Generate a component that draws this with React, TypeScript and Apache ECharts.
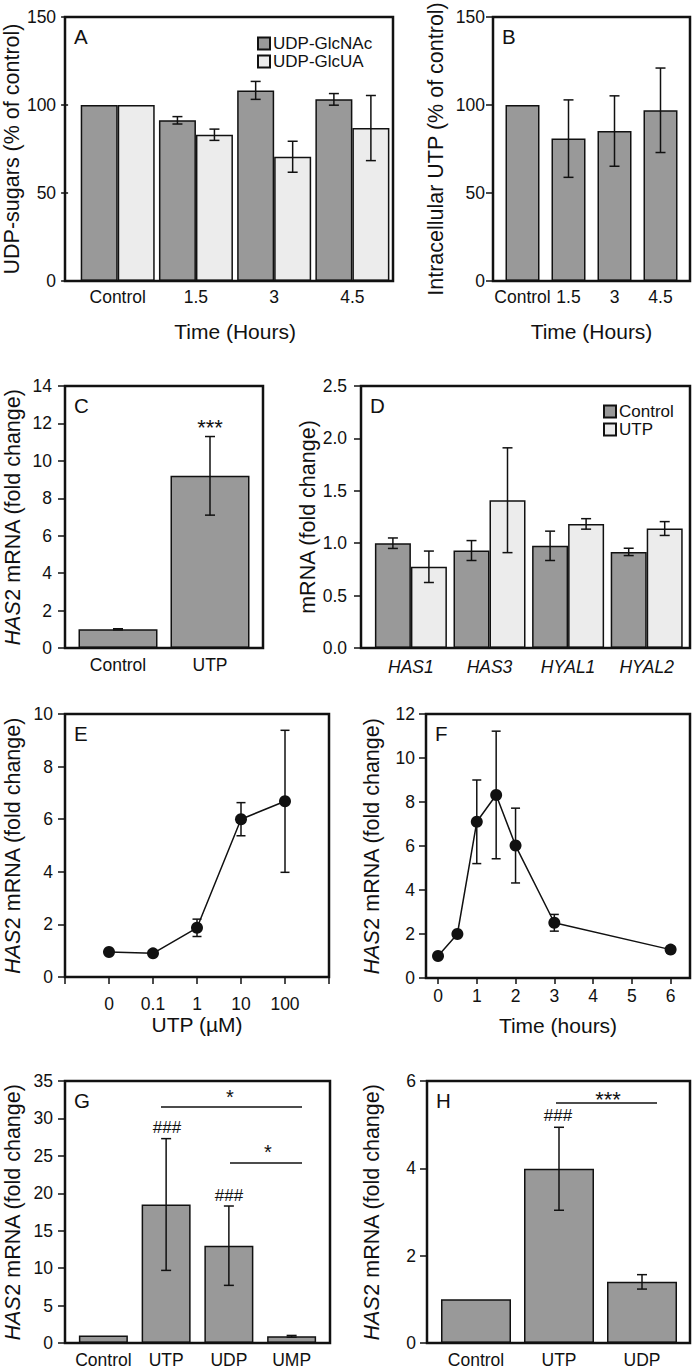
import React, { useEffect, useRef } from 'react';
import * as echarts from 'echarts';

// ---------- data ----------
const timeCats = ['Control', '1.5', '3', '4.5'];
const glcnacVals = [100, 91.3, 108.3, 103.2];
const glcnacErr = [0, 2.1, 5.1, 3.3];
const glcuaVals = [100, 83.1, 70.6, 86.9];
const glcuaErr = [0, 3.2, 8.8, 18.5];
const utpIntraVals = [100, 80.9, 85.2, 97.0];
const utpIntraErr = [0, 22, 20, 24];

const cCats = ['Control', 'UTP'];
const cVals = [1.0, 9.2];
const cErr = [0.03, 2.1];

const dCats = ['HAS1', 'HAS3', 'HYAL1', 'HYAL2'];
const dCtrlVals = [1.0, 0.93, 0.975, 0.917];
const dCtrlErr = [0.05, 0.095, 0.14, 0.035];
const dUtpVals = [0.775, 1.41, 1.184, 1.14];
const dUtpErr = [0.15, 0.5, 0.05, 0.066];

const eDoseLabels = ['0', '0.1', '1', '10', '100'];
const eVals = [0.95, 0.9, 1.87, 6.0, 6.68];
const eErr = [0.05, 0.05, 0.33, 0.63, 2.7];

const fTimes = [0, 0.5, 1, 1.5, 2, 3, 6];
const fVals = [1.0, 2.0, 7.1, 8.32, 6.02, 2.51, 1.29];
const fErr = [0.05, 0.05, 1.9, 2.9, 1.7, 0.38, 0.15];
const fTickVals = [0, 1, 2, 3, 4, 5, 6];

const gCats = ['Control', 'UTP', 'UDP', 'UMP'];
const gVals = [1.0, 18.5, 13.0, 0.89];
const gErr = [0, 8.8, 5.3, 0.12];

const hCats = ['Control', 'UTP', 'UDP'];
const hVals = [1.0, 3.99, 1.4];
const hErr = [0, 0.95, 0.165];

// ---------- style / layout ----------
const FONT = '"Liberation Sans", Arial, Helvetica, sans-serif';
const INK = '#111111';
const DARK = '#999999';
const LIGHT = '#ececec';
const TICK_FS = 17.5;

type Panel = { fx: number; fy: number; fw: number; fh: number; rl: number; rr: number };
const LAY: Record<string, Panel> = {
  A: { fx: 65, fy: 17, fw: 328, fh: 264, rl: 75.5, rr: 391.5 },
  B: { fx: 493, fy: 17, fw: 197, fh: 264, rl: 499.5, rr: 683.5 },
  C: { fx: 65, fy: 386, fw: 198, fh: 262, rl: 72, rr: 256 },
  D: { fx: 361, fy: 386, fw: 329, fh: 262, rl: 371.6, rr: 686 },
  E: { fx: 65, fy: 714, fw: 264, fh: 263, rl: 65, rr: 329 },
  F: { fx: 426, fy: 714, fw: 264, fh: 264, rl: 426, rr: 690 },
  G: { fx: 65, fy: 1081, fw: 265, fh: 262, rl: 72, rr: 323 },
  H: { fx: 427, fy: 1081, fw: 263, fh: 262, rl: 434.5, rr: 683.5 },
};
const ORDER = ['A', 'B', 'C', 'D', 'E', 'F', 'G', 'H'];

const yTitleStyle = {
  fontSize: 21.5,
  color: INK,
  fontFamily: FONT,
  rich: { i: { fontStyle: 'italic', fontSize: 21.5, color: INK, fontFamily: FONT } },
};
const xTitleStyle = { fontSize: 21, color: INK, fontFamily: FONT };

function mkGrid(p: Panel) {
  return { left: p.rl, top: p.fy, width: p.rr - p.rl, height: p.fh, containLabel: false };
}

function mkY(i: number, p: Panel, min: number, max: number, interval: number, name: string, nameGap: number, margin: number, fmt?: (v: number) => string) {
  return {
    gridIndex: i,
    type: 'value',
    min,
    max,
    interval,
    offset: p.rl - p.fx,
    axisLine: { show: false, onZero: false },
    axisTick: { show: true, length: 7, lineStyle: { color: INK, width: 1.5 } },
    splitLine: { show: false },
    axisLabel: { color: INK, fontSize: TICK_FS, fontFamily: FONT, margin, formatter: fmt },
    name,
    nameLocation: 'middle',
    nameGap,
    nameTextStyle: yTitleStyle,
  };
}

function mkXCat(i: number, cats: string[], margin: number, name?: string, nameGap?: number, italic?: boolean) {
  return {
    gridIndex: i,
    type: 'category',
    data: cats,
    axisLine: { show: false, onZero: false },
    axisTick: { show: false },
    axisLabel: { color: INK, fontSize: TICK_FS, fontFamily: FONT, margin, fontStyle: italic ? 'italic' : 'normal', interval: 0 },
    name,
    nameLocation: 'middle',
    nameGap,
    nameTextStyle: xTitleStyle,
  };
}

function errBars(axis: number, xs: number[], vals: number[], errs: number[], shift: number, cap: number) {
  const data = vals.map((v, i) => [xs[i], v - errs[i], v + errs[i]]).filter((_, i) => errs[i] > 0);
  return {
    type: 'custom',
    xAxisIndex: axis,
    yAxisIndex: axis,
    z: 5,
    silent: true,
    encode: { x: 0, y: [1, 2] },
    data,
    renderItem: (_params: any, api: any) => {
      const x0 = api.value(0);
      const lo = api.coord([x0, api.value(1)]);
      const hi = api.coord([x0, api.value(2)]);
      const x = lo[0] + shift;
      const st = { stroke: INK, lineWidth: 1.5 };
      return {
        type: 'group',
        children: [
          { type: 'line', shape: { x1: x, y1: lo[1], x2: x, y2: hi[1] }, style: st },
          { type: 'line', shape: { x1: x - cap / 2, y1: hi[1], x2: x + cap / 2, y2: hi[1] }, style: st },
          { type: 'line', shape: { x1: x - cap / 2, y1: lo[1], x2: x + cap / 2, y2: lo[1] }, style: st },
        ],
      };
    },
  };
}

function bar(axis: number, vals: number[], color: string, width: number, name?: string) {
  return {
    type: 'bar',
    name,
    xAxisIndex: axis,
    yAxisIndex: axis,
    data: vals,
    barWidth: width,
    barGap: '0%',
    itemStyle: { color, borderColor: INK, borderWidth: 1.5 },
    z: 2,
    silent: true,
  };
}

function txt(x: number, y: number, text: string, size: number, align = 'center', valign = 'middle') {
  return {
    type: 'text',
    x,
    y,
    z: 20,
    style: { text, fill: INK, fontSize: size, fontFamily: FONT, textAlign: align, textVerticalAlign: valign },
  };
}

function hline(x1: number, x2: number, y: number) {
  return { type: 'line', z: 20, shape: { x1, y1: y, x2, y2: y }, style: { stroke: INK, lineWidth: 1.5 } };
}

function buildOption() {
  const grids = ORDER.map((k) => mkGrid(LAY[k]));

  const yAxes = [
    mkY(0, LAY.A, 0, 150, 50, 'UDP-sugars (% of control)', 42, 12),
    mkY(1, LAY.B, 0, 150, 50, 'Intracellular UTP (% of control)', 46, 8),
    mkY(2, LAY.C, 0, 14, 2, '{i|HAS}2 mRNA (fold change)', 41, 13),
    mkY(3, LAY.D, 0, 2.5, 0.5, 'mRNA (fold change)', 39, 14, (v: number) => v.toFixed(1)),
    mkY(4, LAY.E, 0, 10, 2, '{i|HAS}2 mRNA (fold change)', 41, 12),
    mkY(5, LAY.F, 0, 12, 2, '{i|HAS}2 mRNA (fold change)', 43, 11),
    mkY(6, LAY.G, 0, 35, 5, '{i|HAS}2 mRNA (fold change)', 41, 12),
    mkY(7, LAY.H, 0, 6, 2, '{i|HAS}2 mRNA (fold change)', 44, 11),
  ];

  const xAxes: any[] = [
    mkXCat(0, timeCats, 7, 'Time (Hours)', 40),
    mkXCat(1, timeCats, 7, 'Time (Hours)', 40),
    mkXCat(2, cCats, 8),
    mkXCat(3, dCats, 10, undefined, undefined, true),
    {
      gridIndex: 4,
      type: 'value',
      min: -1,
      max: 5,
      interval: 1,
      axisLine: { show: false, onZero: false },
      axisTick: { show: true, length: 7, lineStyle: { color: INK, width: 1.5 } },
      splitLine: { show: false },
      axisLabel: {
        color: INK,
        fontSize: TICK_FS,
        fontFamily: FONT,
        margin: 18,
        showMinLabel: true,
        showMaxLabel: true,
        formatter: (v: number) => eDoseLabels[v] ?? '',
      },
      name: 'UTP (µM)',
      nameLocation: 'middle',
      nameGap: 33,
      nameTextStyle: xTitleStyle,
    },
    {
      gridIndex: 5,
      type: 'value',
      min: -0.31,
      max: 6.5,
      axisLine: { show: false, onZero: false },
      axisTick: { show: true, length: 6, customValues: fTickVals, lineStyle: { color: INK, width: 1.5 } },
      splitLine: { show: false },
      axisLabel: { color: INK, fontSize: TICK_FS, fontFamily: FONT, margin: 9, customValues: fTickVals },
      name: 'Time (hours)',
      nameLocation: 'middle',
      nameGap: 37,
      nameTextStyle: xTitleStyle,
    },
    mkXCat(6, gCats, 8),
    mkXCat(7, hCats, 8),
  ];

  const series: any[] = [
    // A
    bar(0, glcnacVals, DARK, 37, 'UDP-GlcNAc'),
    bar(0, glcuaVals, LIGHT, 37, 'UDP-GlcUA'),
    errBars(0, timeCats.map((_, i) => i), glcnacVals, glcnacErr, -18.5, 10),
    errBars(0, timeCats.map((_, i) => i), glcuaVals, glcuaErr, 18.5, 10),
    // B
    bar(1, utpIntraVals, DARK, 34),
    errBars(1, timeCats.map((_, i) => i), utpIntraVals, utpIntraErr, 0, 10),
    // C
    bar(2, cVals, DARK, 79),
    errBars(2, cCats.map((_, i) => i), cVals, cErr, 0, 10),
    // D
    bar(3, dCtrlVals, DARK, 36, 'Control'),
    bar(3, dUtpVals, LIGHT, 36, 'UTP'),
    errBars(3, dCats.map((_, i) => i), dCtrlVals, dCtrlErr, -18, 10),
    errBars(3, dCats.map((_, i) => i), dUtpVals, dUtpErr, 18, 10),
    // E
    errBars(4, eVals.map((_, i) => i), eVals, eErr, 0, 9),
    {
      type: 'line',
      xAxisIndex: 4,
      yAxisIndex: 4,
      data: eVals.map((v, i) => [i, v]),
      symbol: 'circle',
      symbolSize: 12,
      itemStyle: { color: INK },
      lineStyle: { color: INK, width: 1.5 },
      z: 6,
      silent: true,
    },
    // F
    errBars(5, fTimes, fVals, fErr, 0, 9),
    {
      type: 'line',
      xAxisIndex: 5,
      yAxisIndex: 5,
      data: fVals.map((v, i) => [fTimes[i], v]),
      symbol: 'circle',
      symbolSize: 12,
      itemStyle: { color: INK },
      lineStyle: { color: INK, width: 1.5 },
      z: 6,
      silent: true,
    },
    // G
    bar(6, gVals, DARK, 49),
    errBars(6, gCats.map((_, i) => i), gVals, gErr, 0, 10),
    // H
    bar(7, hVals, DARK, 70),
    errBars(7, hCats.map((_, i) => i), hVals, hErr, 0, 10),
  ];

  const graphic: any[] = [];
  ORDER.forEach((k) => {
    const p = LAY[k];
    graphic.push({
      type: 'rect',
      z: 15,
      silent: true,
      shape: { x: p.fx, y: p.fy, width: p.fw, height: p.fh },
      style: { fill: 'none', stroke: INK, lineWidth: 2.5 },
    });
    graphic.push(txt(p.fx + 9, p.fy + 9, k, 20.5, 'left', 'top'));
  });
  // C annotation
  graphic.push(txt(210, 427, '***', 22));
  // G annotations
  graphic.push(txt(230, 1097, '*', 20));
  graphic.push(hline(161, 302, 1107));
  graphic.push(txt(167, 1127, '###', 17));
  graphic.push(txt(268, 1152, '*', 20));
  graphic.push(hline(230, 302, 1163));
  graphic.push(txt(229, 1195, '###', 17));
  // H annotations
  graphic.push(txt(608, 1099, '***', 22));
  graphic.push(hline(556, 657, 1103));
  graphic.push(txt(558, 1115, '###', 17));

  const legendBase = {
    orient: 'vertical',
    icon: 'rect',
    itemWidth: 12,
    itemHeight: 12,
    itemGap: 1,
    padding: 0,
    selectedMode: false,
    textStyle: { fontSize: 17, color: INK, fontFamily: FONT, padding: [0, 0, 0, -2] },
  };

  return {
    animation: false,
    backgroundColor: '#ffffff',
    textStyle: { fontFamily: FONT },
    grid: grids,
    xAxis: xAxes,
    yAxis: yAxes,
    series,
    graphic,
    legend: [
      { ...legendBase, data: ['UDP-GlcNAc', 'UDP-GlcUA'], left: 257, top: 35 },
      { ...legendBase, data: ['Control', 'UTP'], left: 603, top: 403 },
    ],
  };
}

export default function App() {
  const ref = useRef<HTMLDivElement>(null);
  useEffect(() => {
    if (!ref.current) return;
    const chart = echarts.init(ref.current, undefined, { renderer: 'svg' });
    chart.setOption(buildOption() as any);
    return () => chart.dispose();
  }, []);
  return <div ref={ref} style={{ position: 'absolute', left: 0, top: 0, width: 693, height: 1369 }} />;
}
